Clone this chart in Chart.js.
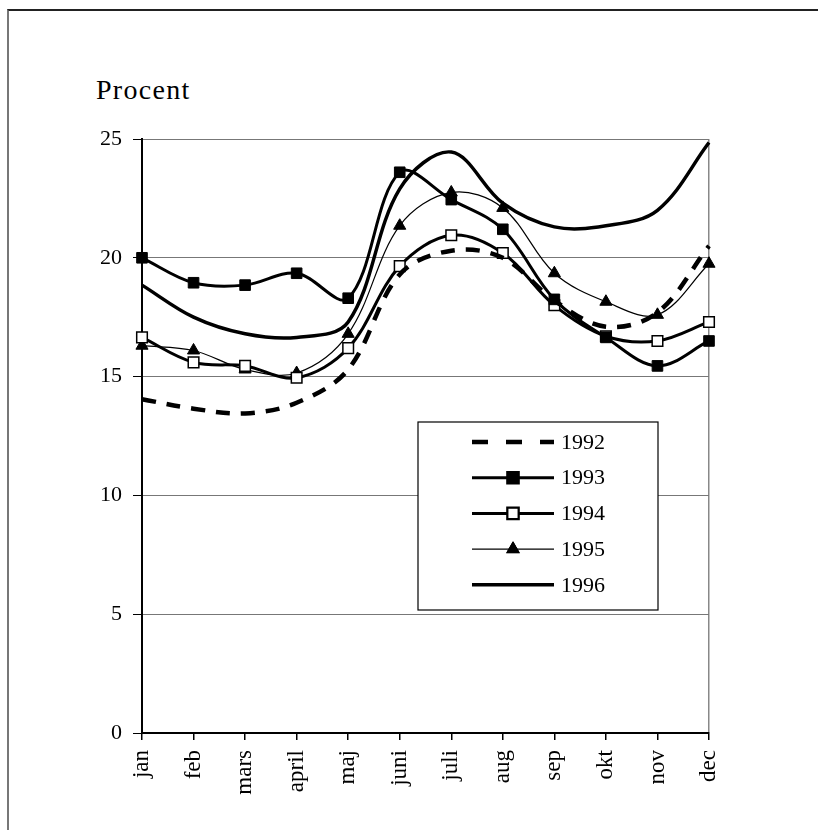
<!DOCTYPE html>
<html lang="sv">
<head>
  <meta charset="UTF-8" />
  <title>Procent per månad 1992-1996</title>
  <script src="https://cdn.jsdelivr.net/npm/chart.js"></script>
  <style>
    * { box-sizing: border-box; margin: 0; padding: 0; }
    body { background: #fff; width: 818px; height: 830px; overflow: hidden; position: relative; font-family: 'Liberation Serif', 'Times New Roman', serif; }
    .frame {
      position: absolute; left: 7px; top: 9px; width: 830px; height: 840px;
      border-top: 2px solid #222; border-left: 2px solid #777;
    }
    .unit { position: absolute; left: 96px; top: 74px; font-size: 28px; color: #000; letter-spacing: 1.3px; }
    .wrap { position: absolute; left: 0; top: 0; width: 818px; height: 830px; }
  </style>
</head>
<body>
  <div class="frame"></div>
  <div class="unit">Procent</div>
  <div class="wrap"><canvas id="chart"></canvas></div>

  <script>
    const months = ['jan', 'feb', 'mars', 'april', 'maj', 'juni', 'juli', 'aug', 'sep', 'okt', 'nov', 'dec'];
    const years = ['1992', '1993', '1994', '1995', '1996'];
    const v1992 = [14.05, 13.65, 13.45, 13.9, 15.3, 19.3, 20.3, 20.0, 18.2, 17.1, 17.7, 20.5];
    const v1993 = [20.0, 18.95, 18.85, 19.35, 18.3, 23.6, 22.45, 21.2, 18.25, 16.65, 15.45, 16.5];
    const v1994 = [16.65, 15.6, 15.45, 14.95, 16.2, 19.65, 20.95, 20.2, 18.0, 16.7, 16.5, 17.3];
    const v1995 = [16.3, 16.1, 15.3, 15.15, 16.8, 21.35, 22.75, 22.1, 19.35, 18.15, 17.6, 19.75];
    const v1996 = [18.85, 17.5, 16.8, 16.65, 17.3, 22.9, 24.45, 22.3, 21.3, 21.35, 22.0, 24.85];
    const yTicks = [0, 5, 10, 15, 20, 25];

    const font = 'Liberation Serif';

    // legend box inside the plot, drawn by hand like the Excel original
    const boxLegend = {
      id: 'boxLegend',
      afterDatasetsDraw(chart) {
        const ctx = chart.ctx;
        const a = chart.chartArea;
        const x0 = a.left + 276, y0 = a.top + 283, w = 240, h = 188;
        ctx.save();
        ctx.fillStyle = '#fff';
        ctx.fillRect(x0, y0, w, h);
        ctx.strokeStyle = '#000';
        ctx.lineWidth = 1.2;
        ctx.strokeRect(x0, y0, w, h);
        chart.data.datasets.forEach((ds, i) => {
          const y = y0 + 20 + i * 35.7;
          const lx0 = x0 + 54, lx1 = x0 + 136;
          ctx.beginPath();
          ctx.setLineDash(i === 0 ? [16, 18] : []);
          ctx.lineWidth = ds.borderWidth;
          ctx.strokeStyle = '#000';
          ctx.moveTo(lx0, y);
          ctx.lineTo(lx1, y);
          ctx.stroke();
          ctx.setLineDash([]);
          if (ds.pointRadius > 0) {
            Chart.helpers.drawPoint(ctx, {
              pointStyle: ds.pointStyle, radius: ds.pointRadius,
              borderWidth: ds.pointBorderWidth, rotation: 0
            }, (lx0 + lx1) / 2, y);
            ctx.fillStyle = ds.pointBackgroundColor;
            ctx.strokeStyle = '#000';
            ctx.lineWidth = ds.pointBorderWidth;
            ctx.fill();
            ctx.stroke();
          }
          ctx.fillStyle = '#000';
          ctx.font = '22px "' + font + '"';
          ctx.textBaseline = 'middle';
          ctx.textAlign = 'left';
          ctx.fillText(ds.label, x0 + 143, y + 1);
        });
        ctx.restore();
      }
    };

    new Chart(document.getElementById('chart'), {
      type: 'line',
      data: {
        labels: months,
        datasets: [
          { label: years[0], data: v1992, borderColor: '#000', borderWidth: 4.5, borderDash: [14, 11], pointRadius: 0, pointBackgroundColor: '#000', pointBorderWidth: 0 },
          { label: years[1], data: v1993, borderColor: '#000', borderWidth: 3, pointStyle: 'rect', pointRadius: 7.5, pointBackgroundColor: '#000', pointBorderColor: '#000', pointBorderWidth: 1 },
          { label: years[2], data: v1994, borderColor: '#000', borderWidth: 3, pointStyle: 'rect', pointRadius: 7.5, pointBackgroundColor: '#fff', pointBorderColor: '#000', pointBorderWidth: 1.5 },
          { label: years[3], data: v1995, borderColor: '#000', borderWidth: 1.2, pointStyle: 'triangle', pointRadius: 7, pointBackgroundColor: '#000', pointBorderColor: '#000', pointBorderWidth: 1 },
          { label: years[4], data: v1996, borderColor: '#000', borderWidth: 3.5, pointRadius: 0, pointBackgroundColor: '#000', pointBorderWidth: 0 }
        ]
      },
      options: {
        responsive: true,
        maintainAspectRatio: false,
        animation: false,
        tension: 0.35,
        layout: { padding: { left: 0, right: 109, top: 139, bottom: 0 } },
        plugins: { legend: { display: false }, tooltip: { enabled: false } },
        scales: {
          x: {
            offset: false,
            afterFit: s => { s.height = 97; },
            border: { color: '#000', width: 2 },
            grid: {
              color: c => c.index === months.length - 1 ? '#888' : 'rgba(0,0,0,0)',
              tickColor: '#000', tickLength: 7, lineWidth: 1.5
            },
            ticks: { minRotation: 90, maxRotation: 90, padding: 10, color: '#000', font: { family: font, size: 23 } }
          },
          y: {
            min: 0, max: 25,
            afterFit: s => { s.width = 142; },
            afterBuildTicks: s => { s.ticks = yTicks.map(v => ({ value: v })); },
            border: { color: '#000', width: 2 },
            grid: { color: '#777', lineWidth: 1, tickColor: '#000', tickLength: 9 },
            ticks: { padding: 11, color: '#000', font: { family: font, size: 22 } }
          }
        }
      },
      plugins: [boxLegend]
    });
  </script>
</body>
</html>
